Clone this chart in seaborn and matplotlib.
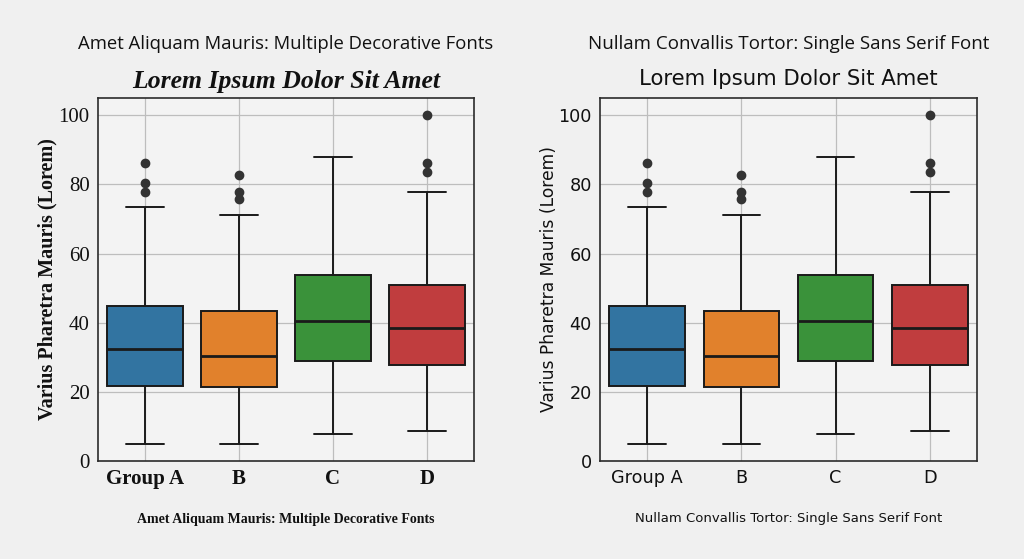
import pandas as pd
import seaborn as sns
import matplotlib.pyplot as plt

# group labels shown on the x axis
groups = ["Group A", "B", "C", "D"]

# raw values per group (21 points each -> quartiles fall on data points)
group_a = [5.0, 9.0, 13.0, 16.5, 19.5, 21.8, 24.0, 26.5, 28.5, 30.5, 32.4,
           34.5, 37.0, 39.5, 42.0, 44.7, 55.0, 73.4, 77.8, 80.5, 86.3]
group_b = [4.8, 8.5, 12.0, 15.5, 18.5, 21.4, 23.5, 25.5, 27.5, 29.0, 30.5,
           32.5, 35.0, 38.0, 41.0, 43.5, 54.0, 71.3, 75.8, 77.8, 82.6]
group_c = [7.9, 13.0, 18.0, 22.0, 26.0, 29.0, 31.5, 34.0, 36.5, 38.5, 40.6,
           43.0, 45.5, 48.5, 51.0, 53.7, 60.0, 66.0, 72.0, 80.0, 87.9]
group_d = [8.7, 13.5, 18.0, 21.5, 25.0, 27.7, 30.0, 32.5, 34.5, 36.5, 38.6,
           40.5, 43.0, 45.5, 48.5, 50.8, 62.0, 77.9, 83.5, 86.3, 100.0]

values = group_a + group_b + group_c + group_d
labels = [g for g, arr in zip(groups, [group_a, group_b, group_c, group_d]) for _ in arr]
df = pd.DataFrame({"group": labels, "value": values})

colors = ["#1f77b4", "#ff7f0e", "#2ca02c", "#d62728"]

sns.set_style("whitegrid", {
    "axes.facecolor": "#f3f3f3",
    "axes.edgecolor": "#2b2b2b",
    "grid.color": "#bdbdbd",
    "text.color": "#111111",
    "axes.labelcolor": "#111111",
    "xtick.color": "#111111",
    "ytick.color": "#111111",
})
plt.rcParams["font.family"] = ["DejaVu Sans"]

fig = plt.figure(figsize=(10.24, 5.59), dpi=100)
fig.patch.set_facecolor("#f0f0f0")

ax1 = fig.add_axes([98 / 1024, 98 / 559, 376 / 1024, 363 / 559])
ax2 = fig.add_axes([600 / 1024, 98 / 559, 377 / 1024, 363 / 559])

for ax in (ax1, ax2):
    sns.boxplot(data=df, x="group", y="value", hue="group", palette=colors,
                whis=1.4, linecolor="#1a1a1a", linewidth=1.4,
                medianprops=dict(linewidth=2.0, color="#1a1a1a"),
                flierprops=dict(marker="o", markerfacecolor="#333333",
                                markeredgecolor="#333333", markersize=6),
                legend=False, ax=ax)
    ax.set_ylim(0, 105)
    ax.set_yticks([0, 20, 40, 60, 80, 100])
    ax.grid(True, axis="both", color="#bdbdbd", linewidth=0.9)
    ax.set_axisbelow(True)
    for sp in ax.spines.values():
        sp.set_color("#2b2b2b")
        sp.set_linewidth(1.2)
    ax.tick_params(length=0, pad=6)

# left: mixed decorative fonts
serif = ["Liberation Serif", "DejaVu Serif"]
ax1.text(0.5, 1.15, "Amet Aliquam Mauris: Multiple Decorative Fonts",
         transform=ax1.transAxes, ha="center", va="center",
         fontsize=13.3, family=["Open Sans", "DejaVu Sans"], color="#111111")
ax1.set_title("Lorem Ipsum Dolor Sit Amet", family=serif, style="italic",
              fontweight="bold", fontsize=18.5, pad=7, color="#111111")
ax1.set_ylabel("Varius Pharetra Mauris (Lorem)", family=serif,
               fontweight="bold", fontsize=14.5, labelpad=1)
ax1.set_xlabel("Amet Aliquam Mauris: Multiple Decorative Fonts", family=serif,
               fontweight="bold", fontsize=10, labelpad=17)
for t in ax1.get_xticklabels():
    t.set_family(serif)
    t.set_fontweight("bold")
    t.set_fontsize(15)
for t in ax1.get_yticklabels():
    t.set_family(serif)
    t.set_fontsize(15)

# right: one sans serif font everywhere
sans = ["DejaVu Sans"]
ax2.text(0.5, 1.15, "Nullam Convallis Tortor: Single Sans Serif Font",
         transform=ax2.transAxes, ha="center", va="center",
         fontsize=13.5, family=["Open Sans", "DejaVu Sans"], color="#111111")
ax2.set_title("Lorem Ipsum Dolor Sit Amet", family=sans, fontsize=15.3, pad=9,
              color="#111111")
ax2.set_ylabel("Varius Pharetra Mauris (Lorem)", family=sans, fontsize=12.3,
               labelpad=0)
ax2.set_xlabel("Nullam Convallis Tortor: Single Sans Serif Font", family=sans,
               fontsize=9.5, labelpad=18)
for t in ax2.get_xticklabels() + ax2.get_yticklabels():
    t.set_family(sans)
    t.set_fontsize(12.7)

fig.savefig("out.png", dpi=100, facecolor=fig.get_facecolor())
